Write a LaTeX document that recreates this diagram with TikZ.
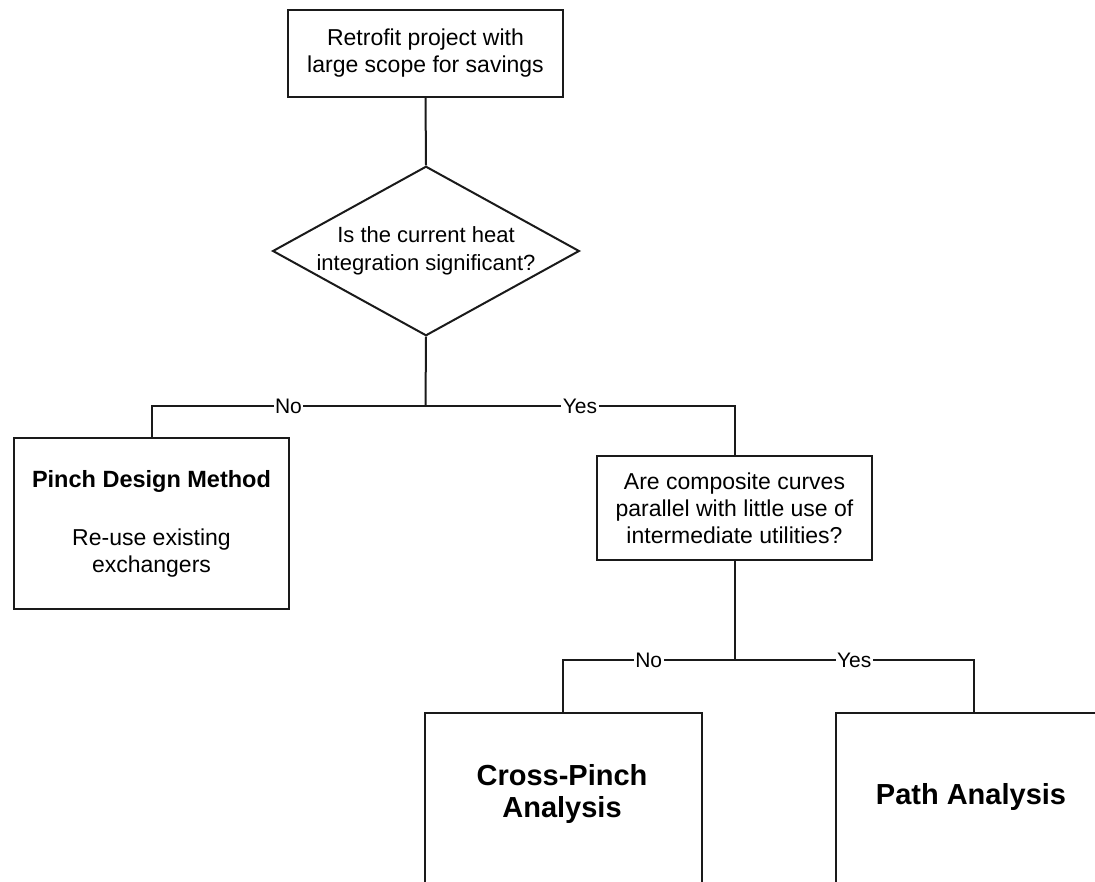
\documentclass[tikz,border=0pt]{standalone}
\usepackage{fontspec}
\setmainfont{Liberation Sans}
\usetikzlibrary{positioning,shapes.geometric}
\definecolor{flowline}{HTML}{1A1A1A}

\tikzset{
  flowbox/.style={draw=flowline, line width=2pt, fill=white,
    minimum width=275pt, inner sep=0pt, align=center,
    font=\fontsize{23}{27}\selectfont},
  decision/.style={diamond, draw=flowline, line width=2pt, fill=white,
    aspect=1.81, minimum width=304pt, minimum height=168pt, inner sep=0pt,
    align=center, font=\fontsize{22}{28}\selectfont},
  bigtext/.style={align=center, font=\bfseries\fontsize{29}{32}\selectfont},
  link/.style={draw=flowline, line width=2pt},
  answer/.style={fill=white, inner sep=1.5pt, font=\fontsize{21}{24}\selectfont},
}

\begin{document}
\begin{tikzpicture}[x=1pt, y=-1pt]
  \useasboundingbox (0,0) rectangle (1095,881);
  \clip (0,0) rectangle (1095,881);

  % boxes
  \node[flowbox, minimum height=87pt] (retrofit) at (425.5,53)
    {Retrofit project with\\large scope for savings};
  \node[decision] (heat) at (426,251)
    {Is the current heat\\integration significant?};
  \node[flowbox, minimum height=171pt] (pinch) at (151.5,523.5) {%
    {\bfseries\fontsize{23.5}{27}\selectfont Pinch Design Method}\\[31pt]
    Re-use existing\\exchangers};
  \node[flowbox, minimum height=104pt] (curves) at (734.5,508)
    {Are composite curves\\parallel with little use of\\intermediate utilities?};
  \node[flowbox, anchor=north, minimum width=277pt, minimum height=240pt]
    (crosspinch) at (563,712) {};
  \node[bigtext] (crosspinchtext) at (562,794) {Cross-Pinch\\Analysis};
  \node[flowbox, anchor=north, minimum width=277pt, minimum height=240pt]
    (pathan) at (974,712) {};
  \node[bigtext] (pathantext) at (971,797) {Path Analysis};

  % forks
  \coordinate (fork1) at (425.5,406);
  \coordinate (fork2) at (734.5,660);

  % connectors
  \draw[link] (retrofit.south) -- (heat.north);
  \draw[link] (heat.south) -- (fork1);
  \draw[link] (fork1) -- node[answer] {No} (fork1 -| pinch.north) -- (pinch.north);
  \draw[link] (fork1) -- node[answer] {Yes} (fork1 -| curves.north) -- (curves.north);
  \draw[link] (curves.south) -- (fork2);
  \draw[link] (fork2) -- node[answer] {No} (fork2 -| crosspinch.north) -- (crosspinch.north);
  \draw[link] (fork2) -- node[answer] {Yes} (fork2 -| pathan.north) -- (pathan.north);
\end{tikzpicture}
\end{document}
